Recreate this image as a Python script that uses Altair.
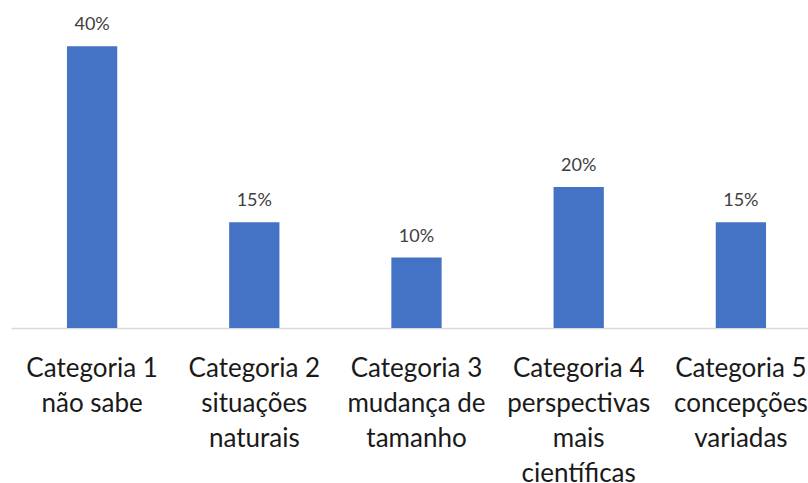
import altair as alt
import pandas as pd

categories = [
    "Categoria 1|não sabe",
    "Categoria 2|situações|naturais",
    "Categoria 3|mudança de|tamanho",
    "Categoria 4|perspectivas|mais|científicas",
    "Categoria 5|concepções|variadas",
]
values = [0.40, 0.15, 0.10, 0.20, 0.15]

df = pd.DataFrame({"cat": categories, "val": values})

x = alt.X(
    "cat:N",
    sort=categories,
    title=None,
    scale=alt.Scale(range=[0, 811], paddingInner=0.69, paddingOuter=0.345),
    axis=alt.Axis(
        labelExpr="split(datum.label, '|')",
        labelAngle=0,
        labelFont="Lato",
        labelFontSize=26,
        labelColor="#1a1a1a",
        labelLineHeight=35,
        labelPadding=40,
        labelBaseline="middle",
        ticks=False,
        domainColor="#d9d9d9",
        domainWidth=1.5,
        labelLimit=300,
    ),
)
y = alt.Y(
    "val:Q",
    scale=alt.Scale(domain=[0, 0.45]),
    axis=None,
)

bars = alt.Chart(df).mark_bar(color="#4472C4").encode(x=x, y=y)
labels = alt.Chart(df).mark_text(
    baseline="bottom", dy=-12, font="Lato", fontSize=18, color="#404040"
).encode(x=alt.X("cat:N", sort=categories), y="val:Q", text=alt.Text("val:Q", format=".0%"))

chart = (
    alt.layer(bars, labels)
    .properties(
        width=797,
        height=317,
        padding={"left": 11, "top": 11, "right": 0, "bottom": 155},
        autosize=alt.AutoSizeParams(type="none"),
        background="white",
    )
    .configure_view(stroke=None, strokeWidth=0)
)

chart.save("out.html", embed_options={"renderer": "svg", "actions": False})
